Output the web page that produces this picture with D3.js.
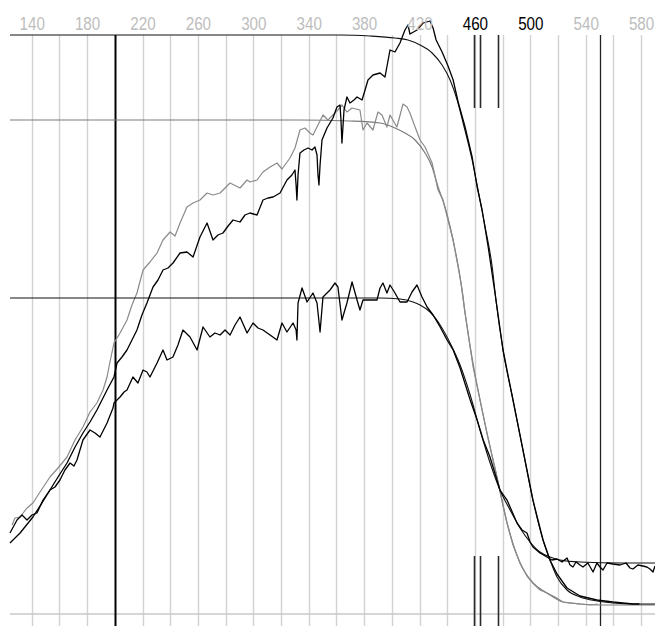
<!DOCTYPE html>
<html><head><meta charset="utf-8">
<script src="https://cdn.jsdelivr.net/npm/d3@7"></script>
<style>html,body{margin:0;padding:0;background:#fff;overflow:hidden}</style>
</head><body><svg id="c" width="655" height="626"></svg>
<script>
// wavelength (nm) tick labels and grid
const labelTicks = [140,180,220,260,300,340,380,420,460,500,540,580];
const highlightLabels = [460, 500];
const gridTicks = [140,160,180,220,240,260,280,300,320,340,360,380,400,420,440,460,480,500,520,540,560,580];
const fullMarkers = [200, 550];
const pairMarkers = [459, 464, 477];
const xExtent = [124.3, 590];

// fitted (smooth) curves: [wavelength, signal]
const fitTop = [[124.3,579],[362.6,579],[384.3,578],[402.3,576],[411.7,574],[420.4,569],[429.1,561],[436.3,549],[442.1,534],[447.2,514],[451.5,491],[458.0,454],[462.3,424],[467.4,387],[472.5,347],[475.2,314],[480.3,264],[487.5,214],[494.7,164],[501.9,114],[509.2,74],[514.2,54],[519.3,37],[526.5,24],[535.9,17],[548.1,13],[559.7,11],[574.1,10],[590.0,10]];
const fitGray = [[124.3,494],[333.7,494],[369.8,493],[391.5,491],[402.3,486],[409.5,481],[416.8,474],[424.0,461],[429.1,447],[433.4,427],[438.4,407],[442.1,387],[445.7,364],[449.3,337],[452.9,301],[458.7,250],[463.7,214],[468.7,181],[475.9,137],[483.2,91],[492.6,51],[501.9,31],[512.0,21],[523.6,12],[535.9,10],[550.3,9],[590.0,9]];
const fitMid = [[124.3,316],[391.5,316],[405.9,315],[415.3,312],[420.4,309],[427.6,302],[434.9,289],[442.1,271],[449.3,249],[456.6,219],[463.7,184],[471.0,151],[478.1,124],[485.4,104],[492.6,86],[499.8,72],[507.0,62],[514.2,57],[521.4,54],[535.9,52],[564.8,51],[590.0,51]];

// measured (noisy) spectra
const grayMeas = [[125.8,89],[127.9,96],[131.6,97],[136.6,106],[140.9,111],[146.0,122],[153.2,137],[159.0,146],[165.5,157],[171.3,174],[177.0,187],[182.1,202],[187.1,211],[191.5,224],[194.4,237],[196.5,252],[199.4,271],[203.8,281],[208.8,294],[212.4,309],[216.0,321],[220.4,344],[225.4,352],[230.5,361],[234.8,374],[239.9,382],[243.5,378],[247.1,391],[252.1,407],[256.5,411],[261.5,414],[266.6,421],[270.9,419],[276.0,421],[283.2,431],[290.4,426],[295.5,434],[297.6,432],[302.7,434],[307.0,442],[312.1,447],[317.1,451],[320.7,445],[326.5,456],[330.1,466],[333.7,484],[337.3,486],[340.9,481],[343.1,479],[346.7,489],[350.3,499],[353.9,494],[357.5,499],[361.1,504],[364.0,509],[367.6,502],[371.3,506],[377.0,504],[379.2,484],[382.1,491],[386.4,484],[390.0,502],[392.9,499],[396.5,487],[398.7,499],[403.7,487],[408.1,510],[411.0,507],[413.1,501],[416.8,487],[420.4,474],[424.0,467],[429.1,451],[433.4,424],[437.0,414],[440.6,394],[444.3,374],[447.9,347],[450.8,324],[452.9,301],[458.7,247],[463.7,214],[468.7,181],[475.9,137],[483.2,91],[487.5,69],[492.6,51],[497.6,38],[501.9,31],[507.0,24],[512.0,21],[517.8,17],[523.6,12],[530.1,11],[535.9,10],[543.1,9],[548.8,10]];
const topMeas = [[124.3,71],[131.6,81],[140.9,97],[147.4,111],[153.2,124],[159.0,137],[165.5,151],[171.3,167],[177.0,181],[182.1,192],[187.1,204],[194.4,224],[199.4,237],[201.6,251],[205.2,257],[208.8,264],[212.4,274],[216.0,284],[219.6,299],[223.2,311],[227.6,327],[231.2,334],[234.8,344],[238.4,346],[242.0,351],[247.1,361],[252.1,362],[256.5,357],[261.5,377],[266.6,391],[270.9,374],[274.5,379],[278.1,381],[281.8,388],[285.4,394],[290.4,392],[294.0,399],[297.6,401],[302.7,399],[307.0,414],[310.6,416],[314.3,417],[319.3,421],[324.3,434],[327.9,439],[330.1,444],[330.9,429],[331.5,414],[332.3,439],[333.7,461],[336.6,464],[339.5,466],[342.4,464],[344.5,467],[346.0,459],[346.7,439],[347.4,429],[348.2,449],[349.6,474],[353.2,486],[357.5,496],[360.4,507],[362.6,509],[363.3,494],[364.0,471],[365.5,504],[367.6,517],[369.8,511],[372.7,514],[374.9,517],[378.5,514],[380.7,524],[382.8,534],[386.4,539],[391.5,541],[395.1,537],[398.7,564],[402.3,562],[405.9,571],[409.5,584],[411.7,589],[413.1,580],[418.2,584],[422.6,591],[427.6,593],[429.8,586],[432.0,574],[436.3,562],[440.6,548],[444.3,534],[447.9,512],[452.9,487],[458.0,457],[461.6,427],[465.2,404],[469.6,367],[474.5,321],[480.3,264],[487.5,214],[494.7,164],[501.9,114],[509.2,74],[514.2,54],[519.3,40],[526.5,26],[535.9,18],[548.1,14],[559.7,12],[574.1,10],[578.8,10]];
const lowMeas = [[124.3,81],[129.4,94],[133.0,99],[136.6,94],[140.2,99],[143.8,101],[148.2,114],[153.2,124],[156.8,127],[160.4,134],[164.0,144],[167.7,151],[170.5,148],[172.7,154],[177.0,174],[182.1,184],[185.7,181],[189.3,177],[194.4,191],[198.7,206],[199.4,211],[203.8,217],[206.7,222],[208.8,224],[213.1,237],[216.7,231],[220.4,244],[223.2,242],[225.4,237],[230.5,251],[234.8,264],[237.7,254],[242.0,257],[245.6,269],[249.2,284],[254.3,277],[259.4,264],[263.7,287],[268.7,277],[272.3,281],[276.0,279],[279.6,284],[283.2,279],[286.8,289],[290.4,297],[295.5,281],[299.8,291],[303.4,286],[307.0,284],[312.1,279],[317.1,274],[320.7,291],[324.3,282],[328.7,291],[330.9,284],[331.5,274],[332.3,311],[335.2,326],[338.8,312],[343.1,321],[346.0,311],[348.2,282],[350.3,317],[355.4,324],[359.0,331],[361.1,327],[364.0,294],[367.6,311],[371.3,332],[374.9,314],[377.0,304],[379.2,314],[384.3,314],[389.3,314],[391.5,326],[393.6,331],[396.5,321],[398.7,329],[402.3,321],[405.9,312],[411.0,312],[414.6,322],[418.2,329],[421.8,317],[425.5,307],[429.8,299],[434.9,287],[439.9,274],[444.3,264],[449.3,246],[456.6,214],[461.6,194],[466.0,174],[470.9,157],[478.1,124],[483.2,114],[490.4,91],[494.0,84],[497.6,81],[499.8,72],[501.9,67],[507.0,61],[512.0,57],[515.6,54],[519.3,55],[522.9,52],[526.5,56],[528.7,49],[530.8,47],[533.0,52],[535.9,49],[538.0,47],[541.6,51],[545.3,42],[548.1,51],[550.3,47],[552.5,44],[555.4,51],[559.7,50],[564.8,49],[569.1,51],[572.0,46],[574.1,45],[577.7,49],[581.3,48],[584.2,47],[586.4,45],[588.6,42],[590.0,48]];

const svg = d3.select('#c');
const x = d3.scaleLinear().domain([140, 580]).range([31.7, 641.1]);
const y = d3.scaleLinear().domain([0, 580]).range([614, 34]);
const yTop = y(579), yBot = 626;
const px = v => Math.round(x(v)) + 0.5;

// grid
svg.append('g').selectAll('line').data(gridTicks).join('line')
  .attr('x1', px).attr('x2', px).attr('y1', yTop).attr('y2', yBot)
  .attr('stroke', '#d2d2d2').attr('stroke-width', 1.4);

// baseline
svg.append('line').attr('x1', x(xExtent[0])).attr('x2', x(xExtent[1]))
  .attr('y1', y(0)).attr('y2', y(0)).attr('stroke', '#c8c8c8').attr('stroke-width', 1.5);

// marker lines
svg.append('line').attr('x1', px(fullMarkers[0])).attr('x2', px(fullMarkers[0]))
  .attr('y1', yTop).attr('y2', yBot).attr('stroke', '#000').attr('stroke-width', 2);
svg.append('line').attr('x1', px(fullMarkers[1])).attr('x2', px(fullMarkers[1]))
  .attr('y1', yTop).attr('y2', yBot).attr('stroke', '#222').attr('stroke-width', 1.3);
const spans = [[506, 579], [-12, 58]];
spans.forEach(s => {
  svg.append('g').selectAll('line').data(pairMarkers).join('line')
    .attr('x1', px).attr('x2', px).attr('y1', y(s[1])).attr('y2', y(s[0]))
    .attr('stroke', '#2a2a2a').attr('stroke-width', 1.6);
});

// curves
const lin = d3.line().x(d => x(d[0])).y(d => y(d[1]));
const smooth = d3.line().x(d => x(d[0])).y(d => y(d[1])).curve(d3.curveMonotoneX);
const draw = (data, gen, color, w) => svg.append('path').datum(data).attr('d', gen)
  .attr('fill', 'none').attr('stroke', color).attr('stroke-width', w).attr('stroke-linejoin', 'round');

draw(fitGray, smooth, '#7a7a7a', 1.2);
draw(grayMeas, lin, '#8a8a8a', 1.2);
draw(fitMid, smooth, '#111', 1.1);
draw(fitTop, smooth, '#111', 1.1);
draw(lowMeas, lin, '#000', 1.3);
draw(topMeas, lin, '#000', 1.3);

// top labels (narrow, tall digits)
const ax = svg.append('g').attr('transform', 'translate(0,30)')
  .call(d3.axisTop(x).tickValues(labelTicks).tickSize(0).tickPadding(0));
ax.select('.domain').remove();
ax.selectAll('text')
  .attr('font-family', '"Liberation Sans",Arial,sans-serif')
  .attr('font-size', 19)
  .attr('transform', 'scale(0.8,1)')
  .attr('fill', d => highlightLabels.includes(d) ? '#000' : '#bdbdbd');
</script></body></html>
